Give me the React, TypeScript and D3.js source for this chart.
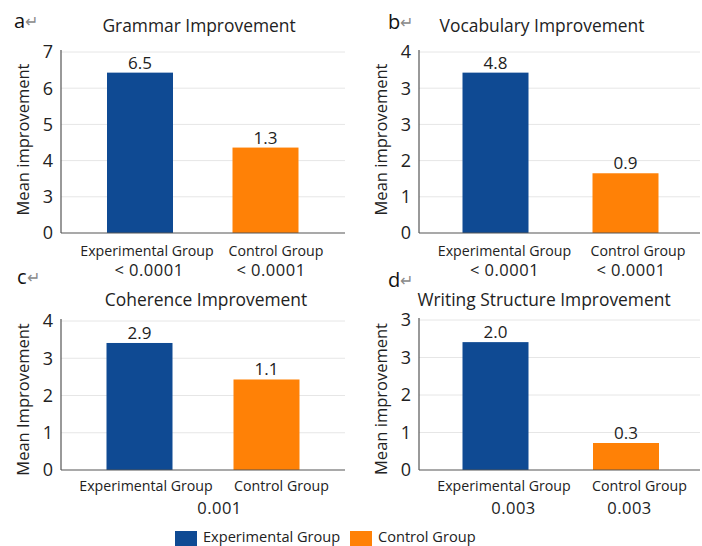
import React from "react";
import * as d3 from "d3";

const panelLetters = ["a", "b", "c", "d"];
const panelTitles = [
  "Grammar Improvement",
  "Vocabulary Improvement",
  "Coherence Improvement",
  "Writing Structure Improvement",
];
const yAxisTitles = [
  "Mean improvement",
  "Mean improvement",
  "Mean Improvement",
  "Mean improvement",
];
const tickLabels = [
  ["0", "3", "4", "5", "6", "7"],
  ["0", "1", "2", "3", "3", "4"],
  ["0", "1", "2", "3", "4"],
  ["0", "1", "2", "3", "3"],
];
const groups = ["Experimental Group", "Control Group"];
// bar heights read in axis tick units (tick index positions)
const barHeightsA = [4.43, 2.36];
const barHeightsB = [4.43, 1.65];
const barHeightsC = [3.41, 2.43];
const barHeightsD = [3.41, 0.72];
const barHeights = [barHeightsA, barHeightsB, barHeightsC, barHeightsD];
const valueLabels = [
  ["6.5", "1.3"],
  ["4.8", "0.9"],
  ["2.9", "1.1"],
  ["2.0", "0.3"],
];
const pValues = [
  ["< 0.0001", "< 0.0001"],
  ["< 0.0001", "< 0.0001"],
  ["0.001"],
  ["0.003", "0.003"],
];

const colors = ["#0f4a93", "#ff8106"];
const FONT = "'Open Sans', sans-serif";
const TEXT = "#222";

const layout = [
  { ax: 61, zero: 233, top: 52, right: 345, cx: [140, 265.5], catDx: [7, 10.5], pDx: [9, 5.5], titleX: 199, titleY: 32, letterX: 14, letterY: 28, catY: 256, pY: 276, ylabX: 29 },
  { ax: 419, zero: 233, top: 52, right: 700, cx: [495.5, 625.5], catDx: [9, 12.5], pDx: [9, 5.5], titleX: 542, titleY: 32, letterX: 388, letterY: 29, catY: 256, pY: 276, ylabX: 387 },
  { ax: 61, zero: 470, top: 321, right: 345, cx: [139.5, 266.5], catDx: [6.5, 15], pDx: [80, 0], titleX: 206, titleY: 306, letterX: 17, letterY: 284, catY: 491, pY: 514, ylabX: 29 },
  { ax: 419, zero: 470, top: 320, right: 700, cx: [495.5, 626], catDx: [8.5, 13.5], pDx: [18, 3.5], titleX: 544, titleY: 306, letterX: 388, letterY: 287, catY: 491, pY: 514, ylabX: 387 },
];

function Panel({ i }: { i: number }) {
  const L = layout[i];
  const ticks = tickLabels[i];
  const y = d3.scaleLinear().domain([0, ticks.length - 1]).range([L.zero, L.top]);
  const x = d3.scalePoint<string>().domain(groups).range(L.cx as [number, number]);
  const bw = 66;
  const midY = (L.zero + L.top) / 2 + (i < 2 ? -3 : 4);
  return (
    <g>
      <text x={L.letterX} y={L.letterY} fontFamily={FONT} fontSize={20} fill="#111">
        {panelLetters[i]}
        <tspan fill="#8a8a8a" fontSize={16} dy={-1}>↵</tspan>
      </text>
      <text x={L.titleX} y={L.titleY} textAnchor="middle" fontFamily={FONT} fontSize={17.4} fill={TEXT}>
        {panelTitles[i]}
      </text>
      {ticks.map((t, k) => (
        <g key={k}>
          {k > 0 && (
            <line x1={L.ax} x2={L.right} y1={y(k)} y2={y(k)} stroke="#e6e6e6" strokeWidth={1} />
          )}
          <text x={L.ax - 8} y={y(k)} dy="0.36em" textAnchor="end" fontFamily={FONT} fontSize={18} fill={TEXT}>
            {t}
          </text>
        </g>
      ))}
      {groups.map((g, k) => (
        <g key={g}>
          <rect
            x={(x(g) as number) - bw / 2}
            y={y(barHeights[i][k])}
            width={bw}
            height={L.zero - y(barHeights[i][k])}
            fill={colors[k]}
          />
          <text x={x(g)} y={y(barHeights[i][k]) - 4} textAnchor="middle" fontFamily={FONT} fontSize={17} fill={TEXT}>
            {valueLabels[i][k]}
          </text>
          <text x={(x(g) as number) + L.catDx[k]} y={L.catY} textAnchor="middle" fontFamily={FONT} fontSize={14.2} fill={TEXT}>
            {g}
          </text>
        </g>
      ))}
      {pValues[i].map((p, k) => (
        <text
          key={k}
          x={(x(groups[k]) as number) + L.pDx[k]}
          y={L.pY}
          textAnchor="middle"
          fontFamily={FONT}
          fontSize={16.5}
          letterSpacing={0.5}
          fill={TEXT}
        >
          {p}
        </text>
      ))}
      <line x1={L.ax} x2={L.ax} y1={L.top - 2} y2={L.zero} stroke="#555" strokeWidth={1.2} />
      <line x1={L.ax} x2={L.right} y1={L.zero} y2={L.zero} stroke="#555" strokeWidth={1.2} />
      <text
        transform={`translate(${L.ylabX},${midY}) rotate(-90)`}
        textAnchor="middle"
        fontFamily={FONT}
        fontSize={16.5}
        fill={TEXT}
      >
        {yAxisTitles[i]}
      </text>
    </g>
  );
}

export default function App() {
  return (
    <svg width={702} height={546} style={{ position: "absolute", left: 0, top: 0, background: "#fff" }}>
      <rect width={702} height={546} fill="#fff" />
      {[0, 1, 2, 3].map((i) => (
        <Panel key={i} i={i} />
      ))}
      <g>
        <rect x={175} y={531} width={22} height={15} fill={colors[0]} />
        <text x={203} y={541.5} fontFamily={FONT} fontSize={14.6} fill={TEXT}>{groups[0]}</text>
        <rect x={350} y={531} width={22} height={15} fill={colors[1]} />
        <text x={378} y={541.5} fontFamily={FONT} fontSize={14.6} fill={TEXT}>{groups[1]}</text>
      </g>
    </svg>
  );
}
